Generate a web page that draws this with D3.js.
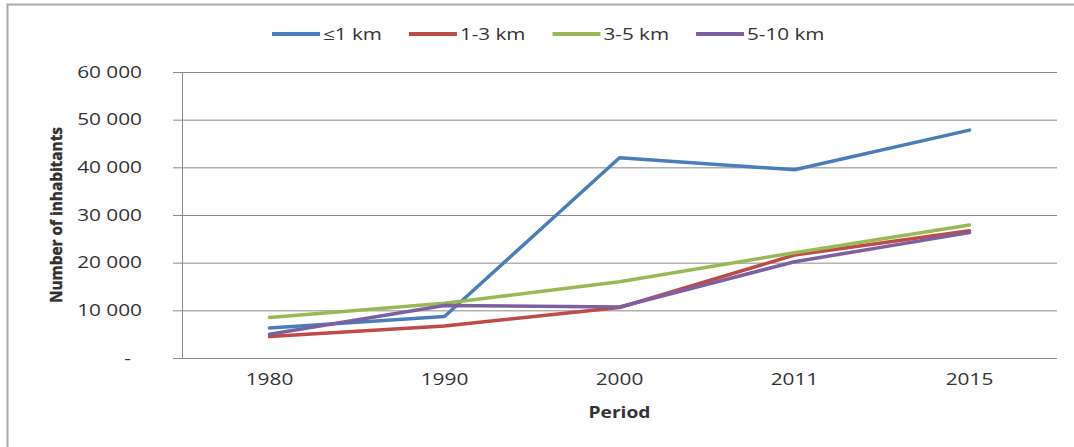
<!DOCTYPE html>
<html>
<head>
<meta charset="utf-8">
<script src="https://cdn.jsdelivr.net/npm/d3@7/dist/d3.min.js"></script>
<style>
  html, body { margin: 0; padding: 0; background: #fff; }
  svg { display: block; }
  text { font-family: "Open Sans", "DejaVu Sans", sans-serif; fill: #333; }
</style>
</head>
<body>
<svg id="chart" width="1074" height="447"></svg>
<script>
// Population by distance band and period
const periods = ["1980", "1990", "2000", "2011", "2015"];
const seriesNames = ["≤1 km", "1-3 km", "3-5 km", "5-10 km"];
const within1 = [6300, 8700, 42000, 39500, 47800];
const from1to3 = [4500, 6700, 10600, 21600, 26700];
const from3to5 = [8500, 11500, 16000, 22100, 27900];
const from5to10 = [5000, 11000, 10700, 20200, 26300];
const seriesColors = ["#4a7ebb", "#be4b48", "#98b954", "#7d60a0"];
const yTicks = [0, 10000, 20000, 30000, 40000, 50000, 60000];

const seriesValues = [within1, from1to3, from3to5, from5to10];
const series = seriesNames.map((name, i) => ({
  name, color: seriesColors[i],
  points: periods.map((p, j) => ({ period: p, value: seriesValues[i][j] }))
}));

const svg = d3.select("#chart");
const TEXT_STRETCH = 1.3;

// widen text horizontally; stores the new width on the node
function stretch(sel, k) {
  sel.each(function () {
    const w = this.getComputedTextLength() * k;
    this.__width = w;
    this.setAttribute("textLength", w);
    this.setAttribute("lengthAdjust", "spacingAndGlyphs");
  });
}

// chart frame
svg.append("rect")
  .attr("x", 7.5).attr("y", 4.5)
  .attr("width", 1100).attr("height", 460)
  .attr("fill", "none").attr("stroke", "#a8a8a8").attr("stroke-width", 2);

const plot = { left: 182, right: 1057, top: 72, bottom: 358 };

const x = d3.scaleBand().domain(periods).range([plot.left, plot.right]);
const y = d3.scaleLinear().domain([0, 60000]).range([plot.bottom, plot.top]);
const xc = p => x(p) + x.bandwidth() / 2;

// horizontal gridlines (with the small tick stubs left of the axis)
const grid = svg.append("g")
  .attr("transform", `translate(${plot.left - 9},0)`)
  .call(d3.axisRight(y).tickValues(yTicks).tickSize(plot.right - plot.left + 9).tickFormat(""));
grid.select(".domain").remove();
grid.selectAll(".tick line").attr("stroke", "#8a8a8a").attr("stroke-width", 1);

// vertical value axis line
svg.append("line")
  .attr("x1", plot.left + 0.5).attr("x2", plot.left + 0.5)
  .attr("y1", y(60000)).attr("y2", y(0))
  .attr("stroke", "#8a8a8a").attr("stroke-width", 1);

// y tick labels
const fmt = v => v === 0 ? "-" : d3.format(",")(v).replace(/,/g, " ");
const yAxis = svg.append("g")
  .attr("transform", `translate(${plot.left - 9},0)`)
  .call(d3.axisLeft(y).tickValues(yTicks).tickSize(0).tickPadding(31).tickFormat(fmt));
yAxis.select(".domain").remove();
yAxis.selectAll("text")
  .attr("font-size", 16).attr("font-family", "'Open Sans', sans-serif").attr("fill", "#2e2e2e")
  .attr("dx", d => d === 0 ? -11 : 0)
  .call(stretch, TEXT_STRETCH);

// x tick labels
const xAxis = svg.append("g")
  .attr("transform", `translate(0,${plot.bottom})`)
  .call(d3.axisBottom(x).tickSize(0).tickPadding(16));
xAxis.select(".domain").remove();
xAxis.selectAll("text")
  .attr("font-size", 16).attr("font-family", "'Open Sans', sans-serif").attr("fill", "#2e2e2e")
  .call(stretch, TEXT_STRETCH);

// axis titles
svg.append("text")
  .attr("x", (plot.left + plot.right) / 2).attr("y", 418)
  .attr("text-anchor", "middle")
  .attr("font-size", 16).attr("font-weight", "bold").attr("fill", "#1e1e1e")
  .text("Period")
  .call(stretch, 1.2);

svg.append("text")
  .attr("transform", "translate(62,215) rotate(-90)")
  .attr("text-anchor", "middle")
  .attr("font-family", "'DejaVu Sans Condensed', 'DejaVu Sans', sans-serif")
  .attr("font-size", 16).attr("font-weight", "bold").attr("fill", "#111")
  .attr("stroke", "#111").attr("stroke-width", 0.35)
  .attr("textLength", 176).attr("lengthAdjust", "spacingAndGlyphs")
  .text("Number of inhabitants");

// series lines
const line = d3.line().x(d => xc(d.period)).y(d => y(d.value));
svg.append("g").selectAll("path")
  .data(series)
  .join("path")
  .attr("d", d => line(d.points))
  .attr("fill", "none")
  .attr("stroke", d => d.color)
  .attr("stroke-width", 3.5)
  .attr("stroke-linejoin", "round")
  .attr("stroke-linecap", "round");

// legend, laid out left to right
const legend = svg.append("g").attr("transform", "translate(272,34)");
let cursor = 0;
series.forEach(s => {
  const g = legend.append("g").attr("transform", `translate(${cursor},0)`);
  g.append("line")
    .attr("x1", 0).attr("x2", 48).attr("y1", 0).attr("y2", 0)
    .attr("stroke", s.color).attr("stroke-width", 4);
  const t = g.append("text")
    .attr("x", 51).attr("y", 0).attr("dy", "0.35em")
    .attr("font-size", 16).attr("fill", "#2a2a2a")
    .text(s.name)
    .call(stretch, 1.29);
  cursor += 51 + t.node().__width + 27;
});
</script>
</body>
</html>
